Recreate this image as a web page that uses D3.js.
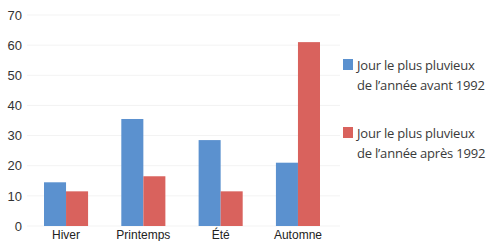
<!DOCTYPE html>
<html><head><meta charset="utf-8">
<script src="https://cdn.jsdelivr.net/npm/d3@7/dist/d3.min.js"></script>
<style>body{margin:0;background:#fff}svg{display:block}</style>
</head><body>
<svg id="c" width="486" height="241"></svg>
<script>
const categories = ["Hiver", "Printemps", "Été", "Automne"];
const seriesNames = ["Jour le plus pluvieux de l’année avant 1992", "Jour le plus pluvieux de l’année après 1992"];
const avant1992 = [14.5, 35.5, 28.5, 21];
const apres1992 = [11.5, 16.5, 11.5, 61];
const yTicks = [0, 10, 20, 30, 40, 50, 60, 70];
const colors = ["#5b91cf", "#d9625d"];

const svg = d3.select("#c");
const x0 = d3.scaleBand().domain(categories).range([27, 337]).paddingInner(0.43).paddingOuter(0.22);
const x1 = d3.scaleBand().domain([0, 1]).range([0, x0.bandwidth()]);
const y = d3.scaleLinear().domain([0, 70]).range([226, 15]);

svg.append("g").selectAll("line").data(yTicks).join("line")
  .attr("x1", 27).attr("x2", 340).attr("y1", d => y(d)).attr("y2", d => y(d))
  .attr("stroke", "#f3f3f3").attr("stroke-width", 1);

const yAxis = d3.axisLeft(y).tickValues(yTicks).tickSize(0).tickPadding(0);
svg.append("g").attr("transform", "translate(22,0)").call(yAxis)
  .call(g => g.select(".domain").remove())
  .selectAll("text").attr("font-family", "Liberation Sans Narrow, Liberation Sans, sans-serif")
  .attr("font-size", 13).attr("fill", "#333");

const xAxis = d3.axisBottom(x0).tickSize(0).tickPadding(0);
svg.append("g").attr("transform", "translate(0,230)").call(xAxis)
  .call(g => g.select(".domain").remove())
  .selectAll("text").attr("font-family", "Liberation Sans Narrow, Liberation Sans, sans-serif")
  .attr("font-size", 12).attr("fill", "#222").attr("dy", "0.71em");

const series = [avant1992, apres1992];
const g = svg.append("g");
categories.forEach((c, i) => {
  series.forEach((s, j) => {
    g.append("rect")
      .attr("x", x0(c) + x1(j)).attr("width", x1.bandwidth())
      .attr("y", y(s[i])).attr("height", y(0) - y(s[i]))
      .attr("fill", colors[j]);
  });
});

const legendY = [65, 133];
const leg = svg.append("g");
seriesNames.forEach((n, j) => {
  leg.append("rect").attr("x", 343).attr("y", legendY[j] - 6).attr("width", 10).attr("height", 11).attr("fill", colors[j]);
  const words = j === 0 ? ["Jour le plus pluvieux", "de l’année avant 1992"] : ["Jour le plus pluvieux", "de l’année après 1992"];
  words.forEach((w, k) => {
    leg.append("text").attr("x", 357).attr("y", legendY[j] + k * 20).attr("dy", "0.35em")
      .attr("font-family", "Open Sans, sans-serif").attr("font-size", 13).attr("fill", "#3a3a3a")
      .attr("letter-spacing", "-0.2").text(w);
  });
});
</script>
</body></html>
